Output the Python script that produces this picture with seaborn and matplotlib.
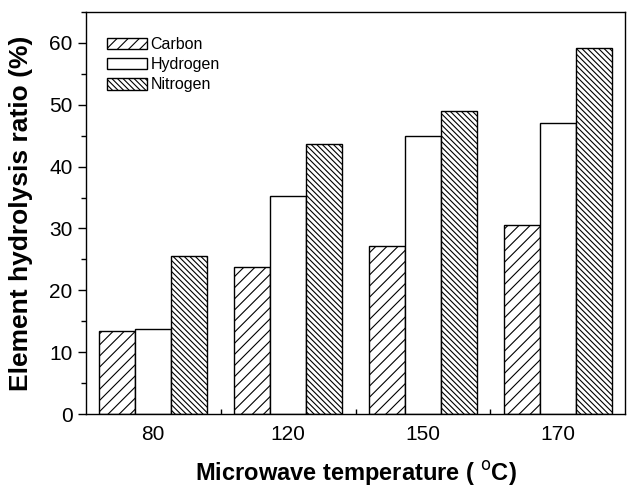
import matplotlib
matplotlib.use("Agg")
import matplotlib.pyplot as plt
from matplotlib.ticker import MultipleLocator, FixedLocator
import seaborn as sns
import pandas as pd

temperatures = ["80", "120", "150", "170"]
elements = ["Carbon", "Hydrogen", "Nitrogen"]
carbon = [13.5, 23.7, 27.2, 30.5]
hydrogen = [13.7, 35.3, 44.9, 47.1]
nitrogen = [25.6, 43.7, 49.0, 59.2]
hatches = ["///", "", "\\\\\\\\\\\\"]

rows = []
for name, vals in zip(elements, [carbon, hydrogen, nitrogen]):
    for t, v in zip(temperatures, vals):
        rows.append({"temp": t, "element": name, "ratio": v})
df = pd.DataFrame(rows)

sns.set_style("ticks")
plt.rcParams["font.family"] = ["Liberation Sans", "DejaVu Sans"]
plt.rcParams["hatch.linewidth"] = 0.8
plt.rcParams["text.color"] = "black"
plt.rcParams["axes.labelcolor"] = "black"

fig = plt.figure(figsize=(6.27, 4.90), dpi=100)
ax = fig.add_axes([0.137, 0.155, 0.860, 0.8205])

sns.barplot(data=df, x="temp", y="ratio", hue="element", order=temperatures,
            hue_order=elements, palette=["white"] * 3, edgecolor="black",
            linewidth=1.0, width=0.8, legend=False, ax=ax)

for container, h in zip(ax.containers, hatches):
    for patch in container.patches:
        patch.set_hatch(h)
        patch.set_facecolor("white")
        patch.set_edgecolor("black")

ax.set_xlim(-0.5, 3.5)
ax.set_ylim(0, 65)
ax.yaxis.set_major_locator(MultipleLocator(10))
ax.yaxis.set_minor_locator(MultipleLocator(5))
ax.xaxis.set_minor_locator(FixedLocator([0.5, 1.5, 2.5]))

for side in ["top", "right", "left", "bottom"]:
    ax.spines[side].set_visible(True)
    ax.spines[side].set_linewidth(1.0)
    ax.spines[side].set_color("black")

ax.tick_params(axis="y", which="major", direction="out", length=6, width=1,
               labelsize=15, colors="black")
ax.tick_params(axis="y", which="minor", direction="out", length=3.5, width=1,
               colors="black")
ax.tick_params(axis="x", which="major", direction="in", length=6, width=1,
               labelsize=15, pad=8, colors="black")
ax.tick_params(axis="x", which="minor", direction="in", length=3.5, width=1,
               colors="black")

ax.set_xlabel("Microwave temperature ( $^{\\mathrm{o}}$C)", fontsize=17,
              fontweight="bold", labelpad=11, color="black")
ax.set_ylabel("Element hydrolysis ratio (%)", fontsize=19, fontweight="bold",
              color="black")
ax.yaxis.set_label_coords(-0.098, 0.5)

ax.legend(ax.containers, elements, loc="upper left",
          bbox_to_anchor=(0.040, 0.938), frameon=False, fontsize=11.5,
          handlelength=2.45, handleheight=0.75, handletextpad=0.25,
          labelspacing=0.33, borderpad=0, borderaxespad=0,
          labelcolor="black")

fig.savefig("out.png", dpi=100)
